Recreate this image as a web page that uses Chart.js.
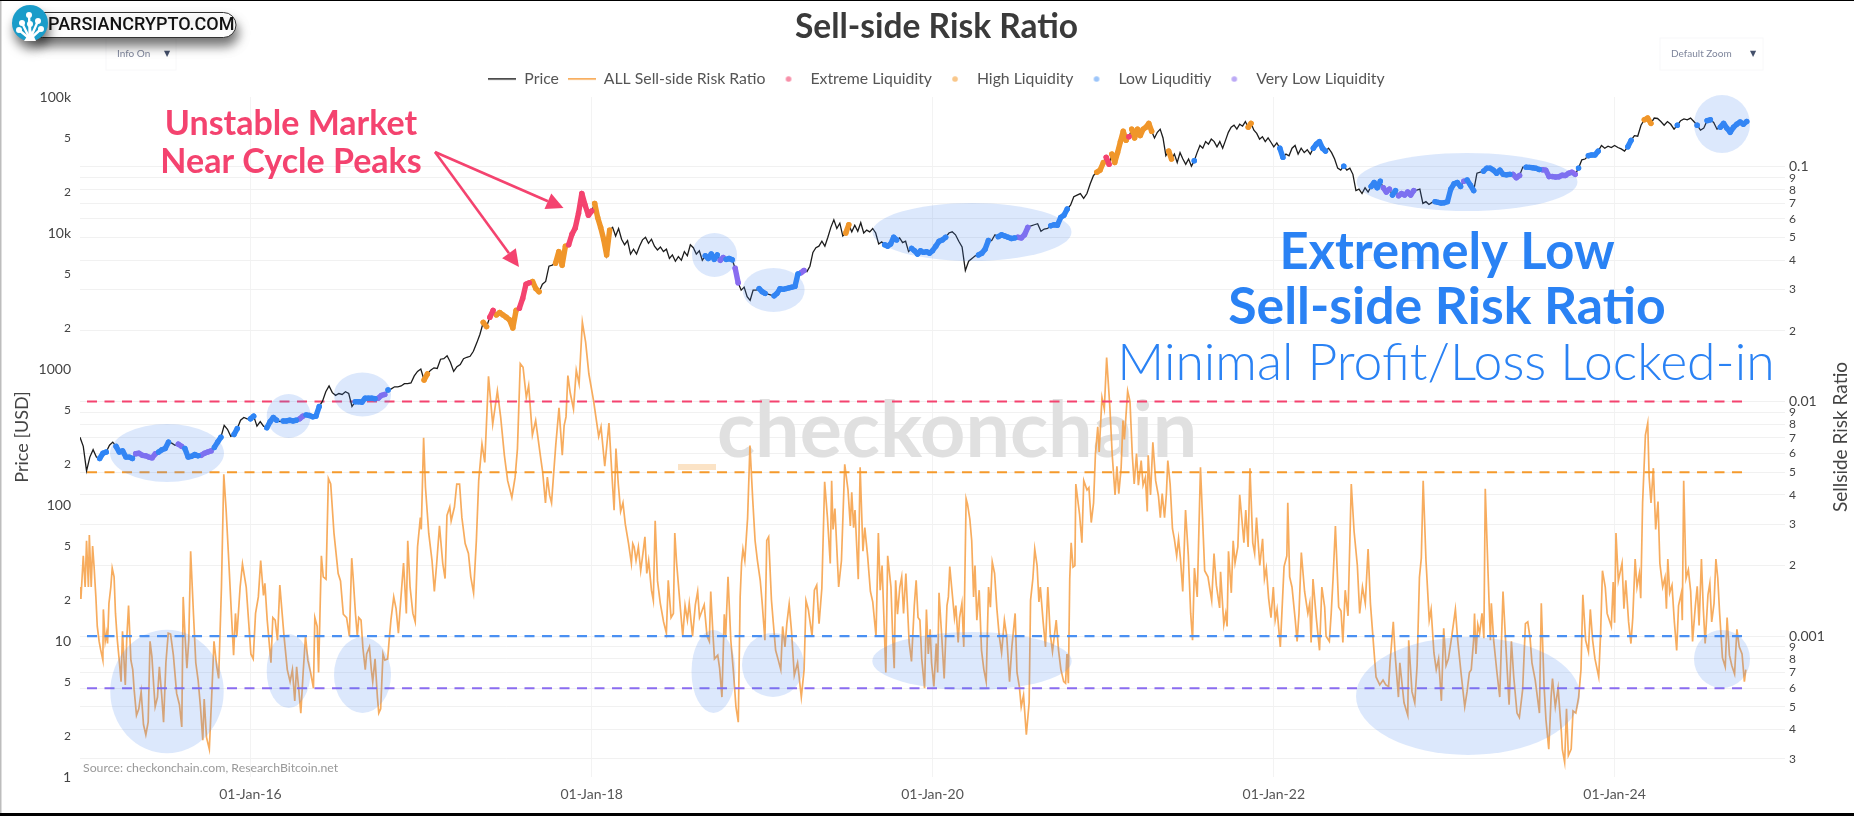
<!DOCTYPE html>
<html>
<head>
<meta charset="utf-8">
<title>Sell-side Risk Ratio</title>
<script src="https://cdn.jsdelivr.net/npm/chart.js@4"></script>
<style>
html, body { margin: 0; padding: 0; background: #fff; overflow: hidden; }
canvas { display: block; }
</style>
</head>
<body>
<canvas id="myChart" width="1854" height="816"></canvas>
<script>
/* BTC price [USD], evenly spaced samples, one array per calendar year */
const price2015 = [315,270,178,225,255,225,220,240,245,275,290,270,245,250,225,225,220,238,240,232,230,225,222,238,245,255,260,290,285,275,280,270,260,225,228,235,230,232,240,245,250,265,290,315,385,360,320,330,365,420,440,430];
const price2016 = [430,450,380,410,380,370,410,440,420,410,415,415,420,415,420,430,450,460,455,445,450,530,580,680,750,670,640,660,650,680,660,530,575,575,570,610,610,610,605,610,640,650,700,715,740,740,750,780,780,790,890,960];
const price2017 = [1000,830,920,980,1020,1010,1180,1190,1250,1120,960,1040,1080,1190,1220,1240,1350,1550,1800,2200,2050,2400,2700,2500,2600,2500,2400,2300,2000,2700,2800,3300,4200,4300,4400,3900,3700,4200,4400,5700,5800,6000,7300,5800,8000,8200,9800,10900,14000,19500,16000,13500];
const price2018 = [14500,16500,13000,11000,9000,6900,10500,11000,9500,10800,9000,8200,8800,7000,7600,7000,8000,8900,9300,8400,9000,8000,7500,7900,7300,7600,6500,6900,6200,6700,6300,7300,6800,8200,7800,7000,7400,6300,6800,6500,7000,6400,6900,6300,6600,6400,6500,6350,5500,4300,3800,4000,3400,3200,3800,3800,3900];
const price2019 = [3700,3600,3550,3500,3450,3600,3900,3850,3900,3950,4000,4050,5000,5100,5300,5200,5700,7200,7800,8000,8700,8000,9300,11000,12500,10800,11800,9500,10000,11500,10200,11400,10300,11900,10000,10500,10200,10800,10000,8300,8600,8200,8000,8300,9300,8900,9200,8500,8700,7300,7700,7400,7000,7400,7200,7300,7100];
const price2020 = [7400,8000,8700,8900,9300,10000,10200,9700,8700,7900,5300,6200,6500,6800,6900,7100,7600,8800,8800,9700,9400,9700,9500,9300,9100,9200,9300,9200,9700,11000,11300,11500,11700,10300,10700,10800,11300,11500,11400,13000,13500,15000,16000,18500,19000,19500,18000,19500,23000,26500,28000,29000];
const price2021 = [33000,36000,32000,38000,33000,39000,47000,56000,48000,51000,58000,50000,58000,52000,58000,60000,64000,56000,50000,55000,58000,50000,37000,40000,35000,38000,33000,39000,35000,32000,35000,31000,34000,39000,44000,42000,47000,45000,49000,47000,43000,47000,42000,48000,55000,60000,62000,58000,63000,61000,66000,60000,64000,57000,54000,49000,51000,47000,50000,46500];
const price2022 = [43000,46000,42000,36000,38000,37000,42000,44000,38000,42000,39000,41000,38000,42000,45000,47000,42000,40000,42000,39000,35000,30000,29000,31000,29000,30000,27000,20500,21000,19500,21500,20000,22000,23500,21500,24000,21500,20000,21000,19000,20500,18800,19500,19000,20000,19000,20500,20700,21000,16500,17000,16200,16800,17000,16800,16600];
const price2023 = [16700,17000,21000,23000,23500,22000,24000,24500,22500,20500,27500,28000,28500,30000,30000,29000,27500,29000,27000,26800,27000,27000,25500,26500,30500,30500,30400,30200,29900,29300,29200,29000,26000,26000,25800,25900,26600,26500,27500,28000,27000,30000,34500,35000,37000,37500,37500,40000,44000,42000,43500,42500];
const price2024 = [44000,42500,41500,40000,43000,48000,52000,51500,62000,68000,70000,64000,70000,69500,66000,62000,66000,63000,58000,62000,67000,69000,68000,70000,66000,62000,57000,59000,67000,68000,65000,58000,60000,64000,59000,55000,60000,63000,65500,63000,66000];
const yearStartDays = [0,365,730,1096,1461,1826,2192,2557,2922,3287];
const lastPriceDay = 3570;

/* liquidity regimes on the price line, [first day, last day] since 01-Jan-15 */
const extremeRanges = [[875,885],[938,964],[1045,1099],[2195,2207],[2241,2250]];
const highRanges = [[734,745],[857,875],[885,938],[964,985],[1013,1045],[1099,1137],[1636,1648],[2177,2195],[2207,2241],[2250,2300],[2330,2339],[2502,2510],[3349,3370]];
const lowRanges = [[36,60],[75,114],[164,190],[221,254],[282,303],[328,339],[360,375],[396,428],[432,464],[478,514],[583,632],[653,662],[1339,1369],[1381,1398],[1449,1470],[1483,1538],[1720,1754],[1775,1860],[1924,1949],[1966,2008],[2076,2118],[2381,2389],[2569,2577],[2636,2674],[2703,2711],[2762,2787],[2808,2820],[2896,2959],[2971,2988],[3005,3064],[3093,3131],[3206,3215],[3227,3257],[3315,3324],[3416,3424],[3458,3470],[3483,3496],[3508,3571]];
const veryLowRanges = [[114,164],[204,221],[254,282],[464,478],[632,653],[1369,1381],[1398,1415],[1538,1551],[2008,2034],[2787,2808],[2820,2862],[2959,2971],[3064,3089],[3131,3148],[3152,3206]];

/* Sell-side risk ratio turning points: days since 01-Jan-15, values in thousandths */
const ssrDays1 = [0,2,7,11,14,18,20,24,27,30,34,37,41,44,49,50,54,57,59,62,66,69,73,76,80,84,88,91,97,100,104,109,113,116,121,126,131,136,141,146,150,154,158,161,166,170,175,179,184,189,194,200,207,213,218,221,225,229,233,237,243,248,253,258,263,266,271,277,282,287,293,297,303,308,313,319,325,329,333,336,343,348,356,361,366,371,376,382,387,393,396,401,409,413,418,423,428,433,437,444,450,455,460,464,468,473,478,483,488,494,500,503,508,511,517,521,527,532,537,544,553,558,564,571,577,582,585,590];
const ssrVals1 = [1.62,1.44,2.2,1.62,2.55,1.62,2.7,1.62,2.42,2.0,1.47,1.1,.95,.88,.79,1.3,.95,1.03,.93,1.38,1.62,1.95,1.79,1.25,.96,.79,.64,1.05,.62,.96,1.35,.79,.72,.59,.46,.49,.58,.42,.38,.43,.95,.82,.61,.5,.55,.74,.56,.43,.77,1.03,1.02,.83,.57,.51,.41,1.47,1.0,.73,.96,2.3,1.25,.77,.65,.5,.36,.54,.37,.33,.55,.95,.74,.66,1.62,4.9,3.45,2.03,1.17,.83,1.25,1.0,1.62,2.03,1.62,1.17,.84,.8,1.25,1.47,2.1,1.49,1.68,1.17,.77,1.2,1.17,.96,1.65,1.25,1.0,.72,.64,.72,.53,.74,.61,.47,.7,1.0,.79,.7,.6,1.2,1.1,.7,2.2,1.79,1.75,4.7,4.45,2.75,1.85,1.72,1.24,1.2,1.0,2.15,1.79,1.25];
const ssrDays2 = [594,597,602,606,611,614,620,624,627,632,637,640,644,649,653,659,662,666,672,677,682,687,693,699,702,707,713,718,723,729,731,736,740,747,754,759,764,770,777,782,786,792,795,802,807,813,818,825,832,837,843,849,854,861,867,875,884,894,901,909,916,925,932,937,943,949,956,961,969,976,986,991,997,1001,1006,1010,1014,1019,1026,1033,1037,1041,1045,1050,1057,1063,1069,1076,1083,1090,1100,1111,1116,1124,1133,1139,1144,1148,1153,1158,1163,1168,1175,1181,1184];
const ssrVals2 = [1.0,1.2,1.17,.89,.72,.84,.9,.72,.64,.8,.55,.47,.49,.84,.79,.8,.95,1.17,1.47,1.31,1.03,1.42,2.05,1.25,2.55,1.62,1.25,1.15,2.4,3.2,2.85,7.0,4.3,2.74,2.1,1.55,2.04,2.95,2.04,1.76,3.27,3.55,3.1,3.55,4.45,4.45,3.2,2.48,2.25,1.79,1.53,2.56,4.6,6.6,5.5,12.8,8.0,11.1,8.6,5.9,4.6,3.9,4.76,6.3,14.5,14,10.4,11.7,7.2,8.3,5.9,5.0,3.7,4.76,3.98,3.7,4.76,6.5,9.4,5.9,7.9,8.6,12.9,10.9,9.3,13.6,11.9,21.8,17.9,13.1,10.1,7.1,7.8,5.3,8.1,5.0,3.44,6.3,4.45,3.4,3.7,3.0,2.48,2.04,2.48];
const ssrDays3 = [1187,1191,1196,1201,1206,1210,1214,1218,1224,1228,1232,1237,1243,1250,1256,1260,1266,1271,1274,1278,1286,1291,1296,1301,1305,1312,1318,1323,1327,1337,1343,1348,1351,1356,1359,1366,1370,1375,1380,1383,1388,1394,1400,1405,1410,1414,1417,1420,1424,1430,1435,1441,1446,1451,1457,1461,1467,1471,1475,1481,1485,1490,1495,1501,1505,1510,1514,1519,1524,1530,1537,1540,1545,1551,1555,1560,1568,1573,1578,1583,1589,1595,1601,1607,1610,1613,1617,1625,1631,1638,1645,1650,1653,1657,1660,1667,1671,1677,1681,1687,1693,1698,1705,1710,1714,1718,1726,1730,1737,1741,1744,1747,1751,1756,1760,1764,1769,1776,1781,1787,1791,1795];
const ssrVals3 = [2.4,2.1,2.4,1.9,2.27,2.65,1.85,2.1,1.57,1.42,3.1,1.72,1.38,1.15,1.03,1.73,1.2,1.25,2.75,2.04,1.31,1.0,1.35,1.17,1.38,1.0,1.36,1.55,1.2,1.36,1.0,.95,1.55,1.0,.8,.83,.73,.55,1.24,1.0,1.79,.96,.69,.5,.43,1.47,2.04,2.35,2.1,3.2,6.5,3.8,2.55,2.1,1.73,1.4,.96,2.56,2.65,1.43,1.14,.87,.8,.72,1.1,.9,1.13,1.37,1.05,.68,.77,.68,.55,.72,1.42,1.3,1.0,1.57,1.65,1.13,1.6,4.55,3.2,2.04,4.6,2.85,3.5,1.62,2.1,5.4,4.2,2.95,4.1,2.9,3.45,1.75,5.25,2.3,2.9,2.2,1.55,1.4,1.0,2.75,1.57,2.0,.7,2.2,1.62,.96,.73,1.73,1.24,1.62,1.79,1.25,1.85,.94,.78,1.35,1.73,1.2];
const ssrDays4 = [1799,1803,1809,1813,1817,1821,1824,1829,1834,1837,1840,1846,1851,1857,1860,1863,1867,1873,1876,1881,1884,1889,1893,1898,1901,1906,1910,1914,1917,1921,1926,1931,1936,1941,1946,1950,1954,1959,1964,1969,1974,1980,1985,1991,1996,2003,2007,2012,2016,2021,2027,2033,2036,2041,2045,2050,2054,2057,2063,2068,2073,2078,2083,2091,2096,2101,2107,2111,2114,2117,2120,2123,2127,2131,2133,2141,2146,2150,2157,2161,2166,2171,2175,2180,2183,2189,2194,2199,2206,2211,2217,2221,2225,2230,2234,2237,2244,2249,2254,2258,2263,2267,2273,2277,2282,2286,2288,2293,2298,2304,2310,2314,2318,2323,2327,2330,2335,2340,2344,2349,2353,2357,2362,2368,2374];
const ssrVals4 = [1.17,.8,.6,1.3,.84,1.07,.77,.61,.93,.7,1.53,.98,.66,1.35,1.47,1.98,1.62,1.2,1.35,.94,1.2,1.38,.9,3.85,3.65,3.15,2.55,1.47,2.0,1.17,1.57,.87,.72,.64,1.62,1.33,2.07,1.85,1.3,1.0,.85,1.17,1.0,.64,.9,1.25,.7,.61,.5,.56,.38,.52,1.42,1.76,2.35,2.0,1.4,1.62,1.15,.9,1.62,1.03,.86,1.17,.87,.72,.64,.63,.84,.63,1.76,2.5,1.97,2.0,4.45,3.3,2.5,4.6,4.2,4.3,3.05,3.7,6.0,7.8,6.1,10.4,9.3,15.4,9.4,5.9,4.0,5.3,4.05,5.2,8.3,6.9,11.1,10.0,5.9,4.45,6.0,4.4,5.6,4.4,4.75,3.4,5.9,4.0,6.7,4.6,3.95,3.2,4.05,3.2,4.05,5.6,4.45,2.87,2.6,2.2,2.6,2.15,1.55,3.45,2.2];
const ssrDays5 = [2379,2383,2387,2393,2400,2409,2416,2424,2429,2434,2441,2443,2450,2454,2457,2460,2466,2470,2474,2480,2484,2489,2493,2497,2502,2506,2512,2516,2520,2527,2533,2537,2541,2546,2551,2556,2560,2564,2571,2579,2585,2587,2591,2596,2603,2607,2611,2616,2623,2630,2634,2637,2641,2648,2655,2660,2666,2669,2676,2680,2684,2689,2696,2701,2705,2710,2716,2723,2729,2736,2741,2747,2753,2759,2764,2771,2776,2784,2791,2797,2803,2806,2813,2817,2824,2827,2836,2844,2846,2853,2859,2864,2869,2873,2877,2883,2890,2894,2900,2905,2910,2916,2921,2926,2931,2937,2946,2951,2958,2966];
const ssrVals5 = [1.25,.96,1.95,1.47,5.25,1.9,1.79,1.42,2.25,1.65,1.32,1.88,1.12,1.25,1.1,2.3,1.53,2.55,2.05,2.4,4.0,3.1,2.5,3.45,2.4,5.2,2.5,2.25,3.2,2.0,2.6,1.76,1.95,1.45,1.2,1.62,1.17,1.3,.9,1.98,2.2,3.7,1.79,1.62,1.17,.95,1.25,2.27,1.55,1.25,1.38,.94,1.75,1.2,.87,1.62,1.33,1.0,.95,1.25,1.76,2.95,1.33,1.28,.94,1.57,1.22,4.45,2.8,2.0,1.25,1.62,1.38,2.35,1.38,.9,.67,.62,.65,.62,.61,.77,1.15,.83,.55,.77,.52,.46,.96,.58,.52,.75,1.78,2.15,4.6,2.1,1.17,1.3,.85,.72,.8,.53,1.08,.75,.8,.96,1.3,.96,.7,.5];
const ssrDays6 = [2971,2976,2980,2985,2987,2990,2994,2998,3003,3007,3010,3016,3021,3023,3028,3035,3041,3048,3053,3061,3066,3071,3078,3083,3090,3096,3101,3106,3110,3117,3126,3130,3136,3140,3146,3151,3154,3160,3166,3173,3175,3180,3184,3188,3194,3198,3204,3210,3215,3219,3225,3231,3235,3240,3245,3253,3257,3261,3267,3271,3280,3284,3287,3290,3295,3303,3307,3311,3317,3322,3326,3331,3335,3340,3343,3347,3353,3358,3361,3365,3370,3375,3380,3384,3390,3395,3398,3401,3405,3410,3415,3420,3424,3430,3432,3435,3440,3445,3450,3454,3460,3464,3468,3473,3477,3481,3487,3491,3495,3500,3504,3508,3512,3518,3524,3528,3533,3538,3544,3549,3554,3560,3565,3568];
const ssrVals6 = [.58,.7,.72,.96,1.25,.84,1.12,1.03,1.25,.98,4.25,1.85,.96,1.38,.96,.7,.55,1.55,1.0,.51,.95,.67,.47,.45,.59,1.13,1.15,.98,.77,.65,.47,1.38,.61,.44,.33,.55,.66,.5,.6,.39,.33,.29,.49,.31,.33,.48,.47,.55,.72,1.5,.96,.86,1.3,.96,.8,.67,1.02,1.9,1.62,1.25,1.1,1.7,1.14,2.75,1.72,2.05,1.31,1.73,1.15,.93,1.2,2.13,1.62,1.85,1.45,3.7,7.2,8.1,4.76,3.7,5.2,2.85,3.75,2.04,1.62,1.78,1.31,2.13,1.53,1.65,1.15,.87,1.35,1.53,1.17,4.6,1.76,1.92,1.55,.95,1.35,1.63,1.11,2.13,1.31,.93,1.5,1.68,1.15,1.38,2.13,1.77,1.25,.81,.74,1.2,.83,.75,.69,1.07,.9,.84,.64,.72];

/* thresholds and axis ticks */
const thresholds = [0.01, 0.005, 0.001, 0.0006];
const thresholdDays = [15, 3567];
const priceTicks = [100000,50000,20000,10000,5000,2000,1000,500,200,100,50,20,10,5,2,1];
const priceTickLabels = ['100k','5','2','10k','5','2','1000','5','2','100','5','2','10','5','2','1'];
const ratioTicks = [0.1,0.09,0.08,0.07,0.06,0.05,0.04,0.03,0.02,0.01,0.009,0.008,0.007,0.006,0.005,0.004,0.003,0.002,0.001,0.0009,0.0008,0.0007,0.0006,0.0005,0.0004,0.0003];
const ratioTickLabels = ['0.1','9','8','7','6','5','4','3','2','0.01','9','8','7','6','5','4','3','2','0.001','9','8','7','6','5','4','3'];
const dateTicks = [365,1096,1826,2557,3287];
const dateTickLabels = ['01-Jan-16','01-Jan-18','01-Jan-20','01-Jan-22','01-Jan-24'];

const FONT = 'Lato, "Open Sans", sans-serif';
const PINK = '#f4436f', ORANGE = '#f59a2c', BLUE = '#2f85f5', PURPLE = '#8a6cf0';

const priceYears = [price2015,price2016,price2017,price2018,price2019,price2020,price2021,price2022,price2023,price2024];
const pricePoints = [];
priceYears.forEach((vals, y) => {
    const start = yearStartDays[y];
    const end = y < 9 ? yearStartDays[y + 1] : lastPriceDay;
    vals.forEach((v, i) => pricePoints.push({ x: start + i * (end - start) / (y < 9 ? vals.length : vals.length - 1), y: v }));
});

const ssrPoints = [];
[[ssrDays1,ssrVals1],[ssrDays2,ssrVals2],[ssrDays3,ssrVals3],[ssrDays4,ssrVals4],[ssrDays5,ssrVals5],[ssrDays6,ssrVals6]].forEach(([days, vals]) => {
    days.forEach((d, i) => ssrPoints.push({ x: d, y: vals[i] / 1000 }));
});

/* price samples inside each range, with a null between ranges to break the stroke */
function pricesIn(ranges) {
    const out = [];
    ranges.forEach(r => {
        pricePoints.forEach(p => { if (p.x >= r[0] && p.x <= r[1]) out.push(p); });
        out.push({ x: r[1], y: null });
    });
    return out;
}

function markerSet(label, points, color) {
    return { label: label, data: points, yAxisID: 'yPrice', showLine: true, spanGaps: false, borderColor: color, borderWidth: 5.4, borderCapStyle: 'round', borderJoinStyle: 'round', pointRadius: 2.7, pointBorderWidth: 0, pointBackgroundColor: color, order: 1 };
}

/* legend symbols, 28 px wide so lines and dots share the same slot */
function legendSymbol(kind, color) {
    const c = document.createElement('canvas');
    c.width = 28; c.height = 6;
    const g = c.getContext('2d');
    g.fillStyle = color;
    if (kind === 'line') g.fillRect(0, 2, 28, 1.6);
    else { g.beginPath(); g.arc(14, 3, 2.8, 0, Math.PI * 2); g.fill(); }
    return c;
}

const legendItems = [
    ['Price', 'line', '#333333'],
    ['ALL Sell-side Risk Ratio', 'line', '#f7a44b'],
    ['Extreme Liquidity', 'dot', '#f78fa8'],
    ['High Liquidity', 'dot', '#f9c78a'],
    ['Low Liquditiy', 'dot', '#9cc5fa'],
    ['Very Low Liquidity', 'dot', '#bcaaf6']
];

/* highlight ellipses: centre x, centre y, radius x, radius y in page pixels */
const ellipses = [
    [167,453,57,29],[288.7,416,22,22],[362.5,394.5,28.5,22],[714.5,255,22.5,22],[773.6,290,31,22],
    [972,232,99.5,29],[1467,182,110.5,29],[1722,124,28,29],
    [167,691.5,56.7,61.7],[288.7,671,22,37],[362.5,675,28.5,38],[713.5,671.5,22,41.5],[773,665,31,32],
    [972,661,99.7,29],[1468,696,112,59],[1722,659,28,29]
];

function text(g, str, x, y, font, color, align) {
    g.font = font;
    g.fillStyle = color;
    g.textAlign = align || 'left';
    g.textBaseline = 'middle';
    g.fillText(str, x, y);
}

function arrow(g, x0, y0, x1, y1) {
    const a = Math.atan2(y1 - y0, x1 - x0), len = 17, wide = 8.5;
    const bx = x1 - len * Math.cos(a), by = y1 - len * Math.sin(a);
    g.strokeStyle = PINK; g.fillStyle = PINK; g.lineWidth = 2.6;
    g.beginPath(); g.moveTo(x0, y0); g.lineTo(bx, by); g.stroke();
    g.beginPath(); g.moveTo(x1, y1);
    g.lineTo(bx + wide * Math.sin(a), by - wide * Math.cos(a));
    g.lineTo(bx - wide * Math.sin(a), by + wide * Math.cos(a));
    g.closePath(); g.fill();
}

function dropdown(g, x, y, w, h, label, labelX, arrowX) {
    g.strokeStyle = '#f8f8f9'; g.lineWidth = 1;
    g.strokeRect(x, y, w, h);
    text(g, label, labelX, 54, '10px ' + FONT, '#7f869c');
    text(g, '\u25BC', arrowX, 54, '8px "DejaVu Sans"', '#44506b', 'center');
}

function logo(g) {
    g.save();
    g.shadowColor = 'rgba(0,0,0,0.55)'; g.shadowBlur = 11; g.shadowOffsetX = 2; g.shadowOffsetY = 8;
    g.fillStyle = '#fff'; g.strokeStyle = '#333'; g.lineWidth = 1;
    g.beginPath(); g.roundRect(30, 12.5, 206, 25, 12.5); g.fill(); g.stroke();
    g.fillStyle = '#1a9cc9';
    g.beginPath(); g.arc(30, 23, 18, 0, Math.PI * 2); g.fill();
    g.restore();
    g.strokeStyle = '#fff'; g.fillStyle = '#fff'; g.lineWidth = 2.4; g.lineCap = 'round';
    [[29,15],[22,23],[38,21],[19,30],[41,29],[30,24]].forEach(p => {
        g.beginPath(); g.moveTo(30, 39); g.lineTo(p[0], p[1]); g.stroke();
        g.beginPath(); g.arc(p[0], p[1], 3, 0, Math.PI * 2); g.fill();
    });
    g.lineCap = 'butt';
    g.beginPath(); g.moveTo(24, 41); g.lineTo(36, 41); g.lineTo(31, 30); g.closePath(); g.fill();
    text(g, 'PARSIANCRYPTO.COM', 48, 25.5, '500 18px Roboto', '#111');
}

const pagePlugin = {
    id: 'page',
    beforeDraw(chart) {
        const g = chart.ctx;
        g.save();
        g.fillStyle = '#fff'; g.fillRect(0, 0, 1854, 816);
        g.restore();
    },
    beforeDatasetsDraw(chart) {
        const g = chart.ctx;
        g.save();
        text(g, 'checkonchain', 717, 432, 'bold 79px ' + FONT, '#e0e0e0');
        g.fillStyle = '#fbe3c6'; g.fillRect(678, 464, 38, 6);
        text(g, 'Source: checkonchain.com, ResearchBitcoin.net', 83, 768, '12.3px ' + FONT, '#999999');
        g.restore();
    },
    afterDatasetsDraw(chart) {
        const g = chart.ctx;
        g.save();
        g.fillStyle = 'rgba(70,135,240,0.19)';
        ellipses.forEach(e => { g.beginPath(); g.ellipse(e[0], e[1], e[2], e[3], 0, 0, Math.PI * 2); g.fill(); });

        text(g, 'Unstable Market', 291, 124, 'bold 34px ' + FONT, PINK, 'center');
        text(g, 'Near Cycle Peaks', 291, 162, 'bold 34px ' + FONT, PINK, 'center');
        arrow(g, 435, 152, 563.5, 208);
        arrow(g, 435, 152, 519, 267);

        text(g, 'Extremely Low', 1447, 253, 'bold 50.7px ' + FONT, '#2a82f4', 'center');
        text(g, 'Sell-side Risk Ratio', 1447, 307, 'bold 51.8px ' + FONT, '#2a82f4', 'center');
        text(g, 'Minimal Profit/Loss Locked-in', 1446, 363, '300 51.7px ' + FONT, '#2a82f4', 'center');

        g.translate(1841, 437); g.rotate(-Math.PI / 2);
        text(g, 'Sellside Risk Ratio', 0, 0, '19px ' + FONT, '#444444', 'center');
        g.restore();

        g.save();
        dropdown(g, 106, 38, 70, 32, 'Info On', 117, 167);
        dropdown(g, 1660, 38, 103, 32, 'Default Zoom', 1671, 1753);
        logo(g);
        g.fillStyle = '#000'; g.fillRect(0, 0, 1854, 1); g.fillRect(0, 813, 1854, 3);
        g.fillStyle = '#bdbdbd'; g.fillRect(0, 1, 1.5, 812);
        g.restore();
    }
};

function tickFont(majorValues) {
    return ctx => ({ family: FONT, size: ctx.tick && majorValues.includes(ctx.tick.value) ? 14 : 12 });
}

new Chart(document.getElementById('myChart'), {
    type: 'scatter',
    plugins: [pagePlugin],
    data: {
        datasets: [
            markerSet('Extreme Liquidity', pricesIn(extremeRanges), PINK),
            markerSet('High Liquidity', pricesIn(highRanges), '#f0962a'),
            markerSet('Low Liquditiy', pricesIn(lowRanges), BLUE),
            markerSet('Very Low Liquidity', pricesIn(veryLowRanges), PURPLE),
            { label: 'Price', data: pricePoints, yAxisID: 'yPrice', showLine: true, borderColor: '#1c1c1c', borderWidth: 1.3, pointRadius: 0, order: 2 },
            { label: 'ALL Sell-side Risk Ratio', data: ssrPoints, yAxisID: 'yRatio', showLine: true, borderColor: 'rgba(246,158,66,0.85)', borderWidth: 1.7, pointRadius: 0, order: 4 },
            ...thresholds.map((t, i) => ({
                label: 'level ' + t,
                data: thresholdDays.map(d => ({ x: d, y: t })),
                yAxisID: 'yRatio', showLine: true, pointRadius: 0, order: 3,
                borderColor: [PINK, ORANGE, '#4a90f2', PURPLE][i],
                borderWidth: i === 2 ? 2.4 : 2, borderDash: [10, 7.5]
            }))
        ]
    },
    options: {
        responsive: false,
        animation: false,
        layout: { padding: { left: 19 } },
        plugins: {
            title: { display: true, text: 'Sell-side Risk Ratio', color: '#3a3a3a', font: { family: FONT, size: 33.5, weight: 'bold' }, padding: { top: 7, bottom: 15 } },
            legend: {
                display: true,
                labels: {
                    usePointStyle: true, pointStyleWidth: 28, padding: 9, color: '#555555',
                    font: { family: FONT, size: 15.8 },
                    generateLabels: () => legendItems.map(it => ({
                        text: it[0], pointStyle: legendSymbol(it[1], it[2]), fontColor: '#555555', lineWidth: 0, strokeStyle: 'transparent', fillStyle: 'transparent'
                    }))
                }
            },
            tooltip: { enabled: false }
        },
        scales: {
            x: {
                type: 'linear', min: 0, max: 3652,
                afterBuildTicks: s => { s.ticks = dateTicks.map(v => ({ value: v })); },
                afterFit: s => { s.height = 39; },
                grid: { color: '#f3f3f3', drawTicks: false },
                border: { display: false },
                ticks: { autoSkip: false, maxRotation: 0, padding: 9, color: '#555555', font: { family: FONT, size: 14 }, callback: (v, i) => dateTickLabels[i] }
            },
            yPrice: {
                type: 'logarithmic', position: 'left', min: 1, max: 100000, bounds: 'data',
                afterBuildTicks: s => { s.ticks = priceTicks.map(v => ({ value: v })); },
                afterFit: s => { s.width = 61; },
                grid: { drawOnChartArea: false, drawTicks: false },
                border: { display: false },
                title: { display: true, text: 'Price [USD]', color: '#444444', font: { family: FONT, size: 18 }, padding: { top: -8 } },
                ticks: { autoSkip: false, padding: 9, color: '#444444', font: tickFont([100000,10000,1000,100,10,1]), callback: (v, i) => priceTickLabels[i] }
            },
            yRatio: {
                type: 'logarithmic', position: 'right', min: 0.000251, max: 0.1986, bounds: 'data',
                afterBuildTicks: s => { s.ticks = ratioTicks.map(v => ({ value: v })); },
                afterFit: s => { s.width = 69; },
                grid: { color: '#f1f1f1', drawTicks: false },
                border: { display: false },
                ticks: { autoSkip: false, padding: 4, color: '#444444', font: tickFont([0.1,0.01,0.001]), callback: (v, i) => ratioTickLabels[i] }
            }
        }
    }
});
</script>
</body>
</html>
